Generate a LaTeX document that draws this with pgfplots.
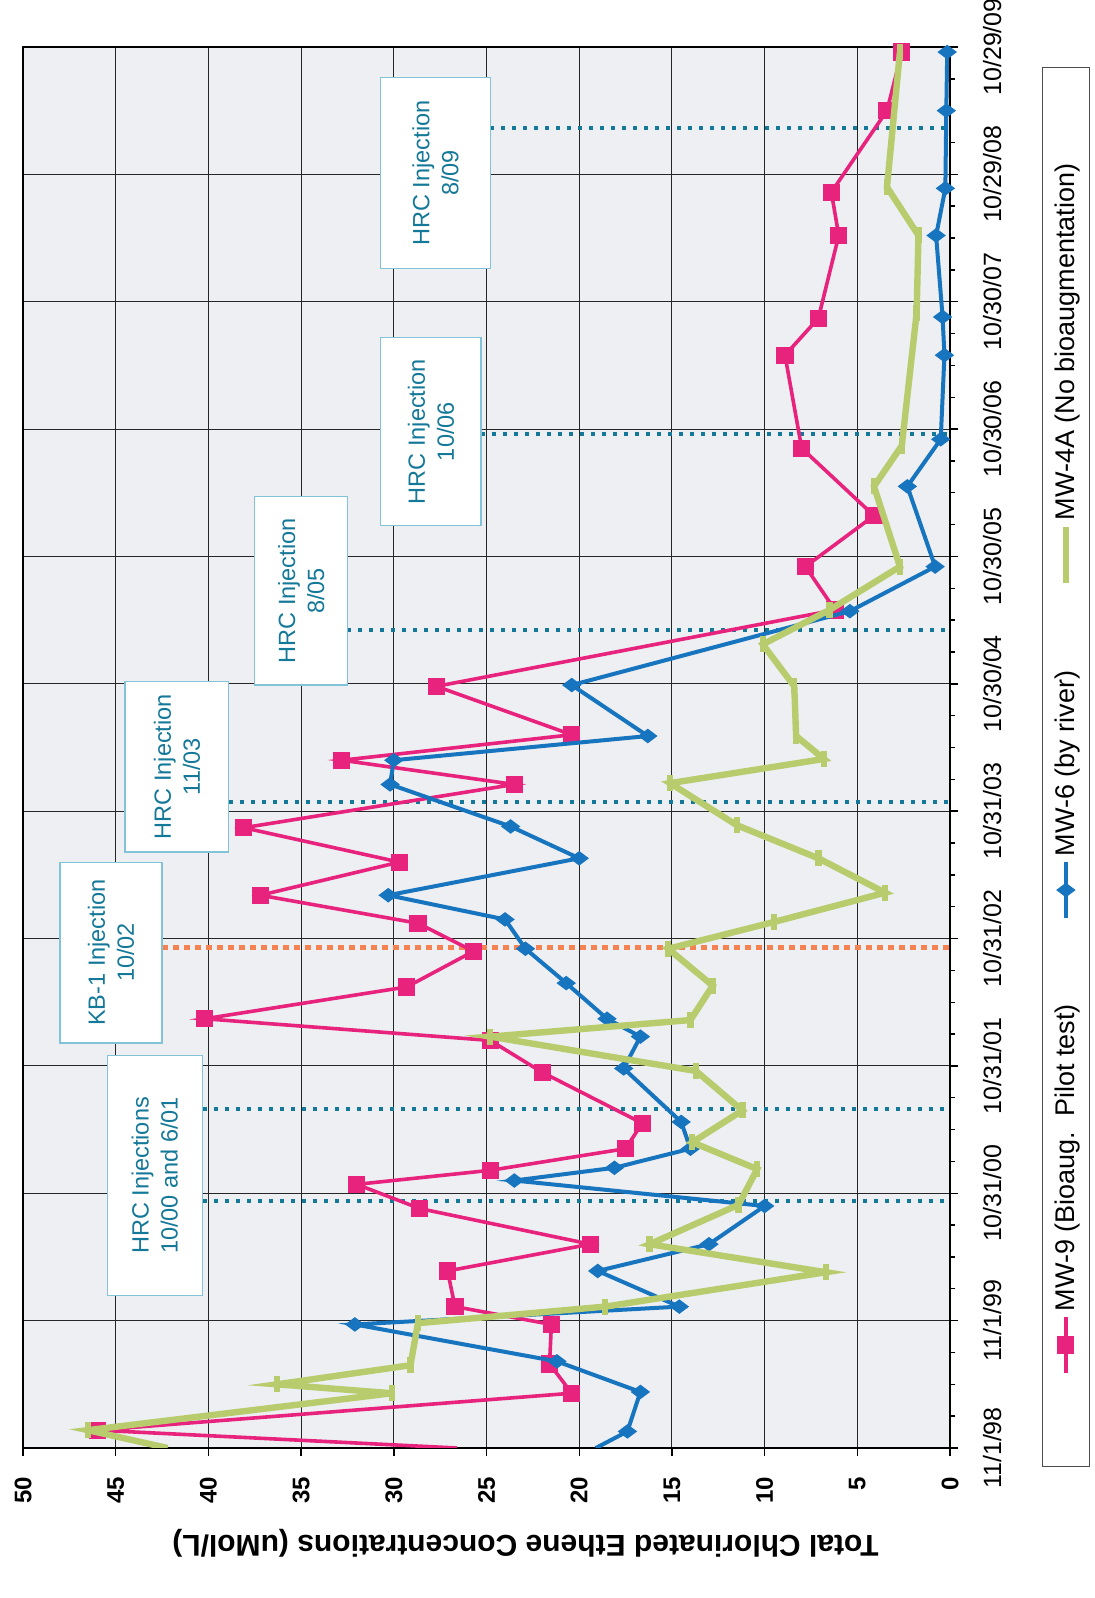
\documentclass[border=0pt]{standalone}
\usepackage{fontspec}
\setmainfont{Liberation Sans}
\usepackage{pgfplots}
\pgfplotsset{compat=1.18}

\definecolor{mwpink}{RGB}{232,35,125}
\definecolor{mwblue}{RGB}{22,117,190}
\definecolor{mwgreen}{RGB}{184,204,110}
\definecolor{hrcteal}{RGB}{20,120,152}
\definecolor{kborange}{RGB}{245,130,80}
\definecolor{boxedge}{RGB}{130,195,215}
\definecolor{plotbg}{RGB}{237,239,242}

% Sampling results, time in 365-day years after 11/1/98
\pgfplotstableread{
t v
0    26.6
0.14 46.0
0.43 20.4
0.66 21.6
0.97 21.5
1.11 26.7
1.39 27.1
1.60 19.4
1.88 28.6
2.07 32.0
2.18 24.8
2.35 17.5
2.55 16.6
2.95 22.0
3.20 24.8
3.37 40.2
3.62 29.3
3.90 25.7
4.12 28.7
4.34 37.2
4.60 29.7
4.87 38.1
5.21 23.5
5.40 32.8
5.60 20.4
5.98 27.7
6.58 6.2
6.92 7.8
7.32 4.1
7.85 8.0
8.58 8.9
8.87 7.1
9.52 6.0
9.86 6.4
10.50 3.4
10.96 2.6
}\mwnine

\pgfplotstableread{
t v
0    19.1
0.13 17.4
0.44 16.7
0.68 21.2
0.97 32.1
1.11 14.6
1.39 19.0
1.60 13.0
1.90 10.0
2.10 23.5
2.20 18.1
2.35 14.0
2.56 14.5
2.98 17.6
3.23 16.7
3.37 18.5
3.65 20.7
3.92 22.9
4.15 24.0
4.34 30.3
4.63 20.0
4.88 23.7
5.21 30.2
5.40 30.0
5.59 16.3
5.99 20.4
6.57 5.4
6.92 0.8
7.55 2.3
7.92 0.5
8.58 0.3
8.88 0.4
9.52 0.75
9.89 0.25
10.50 0.2
10.96 0.15
}\mwsix

\pgfplotstableread{
t v
0    42.2
0.14 46.5
0.43 30.1
0.50 36.3
0.65 29.1
0.98 28.7
1.11 18.6
1.38 6.7
1.60 16.2
1.91 11.4
2.19 10.4
2.40 13.9
2.65 11.2
2.96 13.7
3.23 24.8
3.36 14.0
3.63 12.8
3.92 15.2
4.13 9.5
4.36 3.5
4.63 7.1
4.89 11.5
5.22 15.1
5.41 6.8
5.59 8.3
5.98 8.4
6.31 10.1
6.58 6.5
6.92 2.7
7.55 4.1
7.87 2.6
8.91 1.8
9.52 1.7
9.90 3.4
10.96 2.7
}\mwfour

\begin{document}
\begin{tikzpicture}[rotate=90, transform shape]
\path[use as bounding box] (0,0) rectangle (799pt,547pt);
\begin{axis}[
  at={(75pt,72pt)}, anchor=south west,
  scale only axis, width=700.5pt, height=463.5pt,
  xmin=0, xmax=11, ymin=0, ymax=50,
  xtick={0,...,11},
  xticklabels={11/1/98,11/1/99,10/31/00,10/31/01,10/31/02,10/31/03,10/30/04,10/30/05,10/30/06,10/30/07,10/29/08,10/29/09},
  minor x tick num=3,
  ytick={0,5,...,50},
  grid=major,
  major grid style={black!85, line width=0.55pt},
  axis line style={black, line width=0.8pt},
  tick pos=left, tick align=outside,
  major tick length=4pt, minor tick length=2.5pt,
  tick style={black, line width=0.7pt},
  axis background/.style={fill=plotbg},
  /pgf/number format/assume math mode=true,
  xticklabel style={font=\fontsize{12.5}{14}\selectfont, yshift=-9pt},
  yticklabel style={font=\fontsize{12}{14}\selectfont\bfseries, xshift=-7pt},
  ylabel={Total Chlorinated Ethene Concentrations (uMol/L)},
  ylabel style={font=\fontsize{15}{18}\selectfont\bfseries, at={(axis description cs:-0.068,0.458)}, anchor=center},
  clip mode=individual,
  legend columns=3,
  legend style={at={(axis description cs:0.486,-0.125)}, anchor=center,
    draw=black!70, line width=0.6pt, fill=white,
    font=\fontsize{13.5}{16}\selectfont, inner xsep=46pt, inner ysep=4pt,
    /tikz/every even column/.append style={column sep=40pt}},
  legend image code/.code={\draw[mark repeat=2, mark phase=2, #1] plot coordinates {(0pt,0pt) (14pt,0pt) (28pt,0pt)};},
]
% injection dates
\draw[hrcteal, line width=2pt, dash pattern=on 2pt off 3.5pt] (axis cs:1.94,40.3) -- (axis cs:1.94,0);
\draw[hrcteal, line width=2pt, dash pattern=on 2pt off 3.5pt] (axis cs:2.66,40.3) -- (axis cs:2.66,0);
\draw[kborange, line width=2.6pt, dash pattern=on 3pt off 2.5pt] (axis cs:3.93,42.5) -- (axis cs:3.93,0);
\draw[hrcteal, line width=2pt, dash pattern=on 2pt off 3.5pt] (axis cs:5.07,38.9) -- (axis cs:5.07,0);
\draw[hrcteal, line width=2pt, dash pattern=on 2pt off 3.5pt] (axis cs:6.42,32.5) -- (axis cs:6.42,0);
\draw[hrcteal, line width=2pt, dash pattern=on 2pt off 3.5pt] (axis cs:7.96,25.3) -- (axis cs:7.96,0);
\draw[hrcteal, line width=2pt, dash pattern=on 2pt off 3.5pt] (axis cs:10.36,24.8) -- (axis cs:10.36,0);

\addplot[mwpink, line width=1.8pt, mark=square*, mark size=3.4pt, mark repeat=1, mark phase=2, mark options={solid}] table[x=t, y=v] {\mwnine};
\addlegendentry{MW-9 (Bioaug.\ \ Pilot test)}
\addplot[mwblue, line width=2pt, mark=diamond*, mark size=3.2pt, mark repeat=1, mark phase=2, mark options={solid}] table[x=t, y=v] {\mwsix};
\addlegendentry{MW-6 (by river)}
\addplot[mwgreen, line width=3.2pt, mark=-, mark size=4pt, mark repeat=1, mark phase=2, mark options={solid, line width=3.2pt}] table[x=t, y=v] {\mwfour};
\addlegendentry{MW-4A (No bioaugmentation)}

% annotation boxes
\tikzset{injbox/.style={draw=boxedge, fill=white, line width=0.6pt},
         injtext/.style={text=hrcteal, align=center, font=\fontsize{11.75}{14.5}\selectfont}}
\draw[injbox] (axis cs:1.20,40.3) rectangle (axis cs:3.08,45.45);
\node[injtext] at (axis cs:2.14,42.9) {HRC Injections\\10/00 and 6/01};
\draw[injbox] (axis cs:3.18,42.5) rectangle (axis cs:4.60,48.0);
\node[injtext] at (axis cs:3.89,45.25) {KB-1 Injection\\10/02};
\draw[injbox] (axis cs:4.68,38.9) rectangle (axis cs:6.02,44.5);
\node[injtext] at (axis cs:5.35,41.7) {HRC Injection\\11/03};
\draw[injbox] (axis cs:5.99,32.5) rectangle (axis cs:7.47,37.5);
\node[injtext] at (axis cs:6.73,35.0) {HRC Injection\\8/05};
\draw[injbox] (axis cs:7.24,25.3) rectangle (axis cs:8.72,30.7);
\node[injtext] at (axis cs:7.98,28.0) {HRC Injection\\10/06};
\draw[injbox] (axis cs:9.26,24.8) rectangle (axis cs:10.76,30.7);
\node[injtext] at (axis cs:10.01,27.75) {HRC Injection\\8/09};
\end{axis}
\end{tikzpicture}
\end{document}
